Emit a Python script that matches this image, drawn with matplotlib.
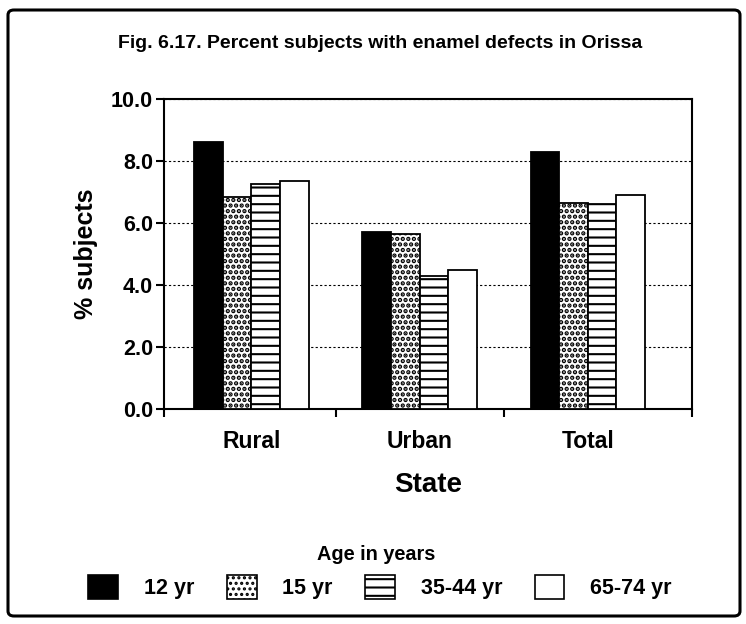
import matplotlib
matplotlib.use("Agg")
import matplotlib.pyplot as plt
from matplotlib.patches import FancyBboxPatch, Patch
import numpy as np

categories = ["Rural", "Urban", "Total"]
series_names = ["12 yr", "15 yr", "35-44 yr", "65-74 yr"]
v_12 = [8.6, 5.7, 8.3]
v_15 = [6.85, 5.65, 6.65]
v_35 = [7.25, 4.3, 6.6]
v_65 = [7.35, 4.5, 6.9]
yticks = [0.0, 2.0, 4.0, 6.0, 8.0, 10.0]

series = [v_12, v_15, v_35, v_65]
faces = ["black", "white", "white", "white"]
hatches = [None, "...", "--", None]
hatch_lw = [1.5, 2.2, 1.5, 1.5]

plt.rcParams["font.family"] = ["Liberation Sans", "DejaVu Sans"]
plt.rcParams["font.weight"] = "bold"
plt.rcParams["hatch.color"] = "black"

fig = plt.figure(figsize=(7.46, 6.24), dpi=100)
W, H = 746, 624
ax = fig.add_axes([164 / W, 1 - 409 / H, (692 - 164) / W, (409 - 99) / H])

x = np.arange(len(categories))
w = 0.17
handles = []
for i, (vals, fc, h) in enumerate(zip(series, faces, hatches)):
    plt.rcParams["hatch.linewidth"] = hatch_lw[i]
    ax.bar(x + (i - 1.5) * w, vals, width=w, color=fc, edgecolor="black",
           linewidth=1.3, hatch=h, zorder=3, label=series_names[i])
    handles.append(Patch(facecolor=fc, edgecolor="black", hatch=h, linewidth=1.2))
plt.rcParams["hatch.linewidth"] = 1.5

xlo, xhi = -0.52, 2.62
ax.set_xlim(xlo, xhi)
ax.set_ylim(0, 10)
ax.set_yticks(yticks)
ax.set_yticklabels([f"{t:.1f}" for t in yticks], fontsize=15.5, fontweight="bold")
ax.set_xticks(x)
ax.set_xticklabels(categories, fontsize=16.5, fontweight="bold")
ax.tick_params(axis="x", which="major", length=0, pad=15)
ax.set_xticks([xlo, 0.5, 1.5, xhi], minor=True)
ax.tick_params(axis="x", which="minor", length=6, width=1.5, direction="out")
ax.tick_params(axis="y", length=6, width=1.5, direction="out", pad=2)
for s in ax.spines.values():
    s.set_linewidth(1.5)
ax.grid(axis="y", linestyle=(0, (2, 2)), color="black", linewidth=0.8, zorder=0)
ax.set_axisbelow(True)

ax.set_ylabel("% subjects", fontsize=18, fontweight="bold", labelpad=9)
ax.set_xlabel("State", fontsize=20, fontweight="bold", labelpad=14)

fig.text(380 / W, 1 - 44 / H, "Fig. 6.17. Percent subjects with enamel defects in Orissa",
         ha="center", va="center", fontsize=14, fontweight="bold")

fig.text(376 / W, 1 - 555 / H, "Age in years", ha="center", va="center",
         fontsize=14.3, fontweight="bold")

fig.legend(handles, series_names, loc="center", bbox_to_anchor=(380 / W, 1 - 587 / H),
           ncol=4, frameon=False, prop={"size": 15.5, "weight": "bold"},
           handlelength=1.39, handleheight=1.39, handletextpad=1.2, columnspacing=1.5)

border = FancyBboxPatch((8 / W, 8 / H), (740 - 8) / W, (614 - 8) / H,
                        boxstyle="round,pad=0,rounding_size=0.008",
                        transform=fig.transFigure, fill=False,
                        edgecolor="black", linewidth=2.2)
fig.patches.append(border)

fig.savefig("out.png", dpi=100)
